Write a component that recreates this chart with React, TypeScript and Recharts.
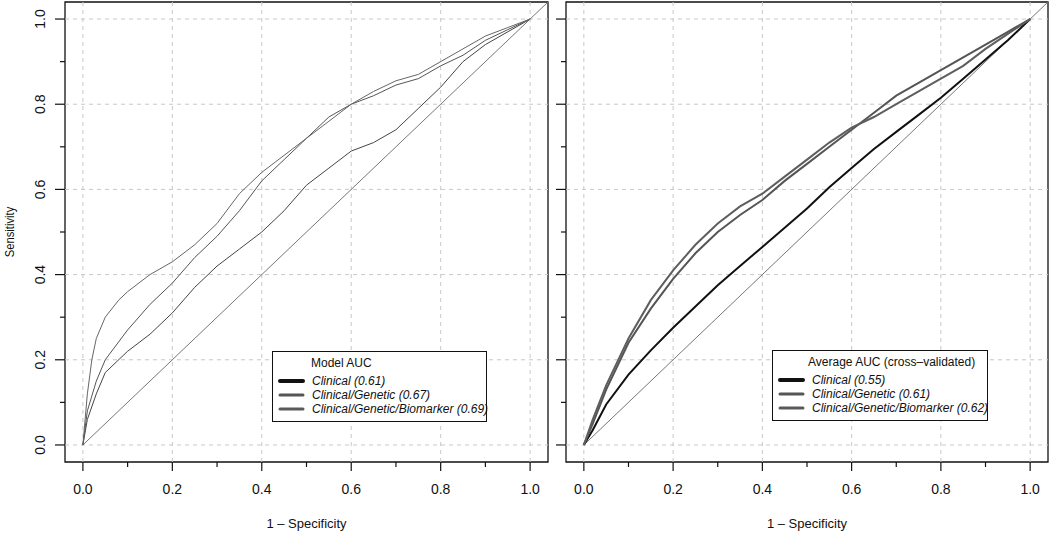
import React from "react";
import { LineChart, Line, XAxis, YAxis, ReferenceLine, ReferenceArea } from "recharts";

type Pt = { x: number; y: number };

// tick values
const axisTicks = [0, 0.1, 0.2, 0.3, 0.4, 0.5, 0.6, 0.7, 0.8, 0.9, 1.0];
const majorTicks = [0, 0.2, 0.4, 0.6, 0.8, 1.0];
const gridValues = [0, 0.2, 0.4, 0.6, 0.8, 1.0];
const domain: [number, number] = [-0.04, 1.04];

const diagonal: Pt[] = [
  { x: 0, y: 0 },
  { x: 1.04, y: 1.04 },
];

// left panel: model ROC curves
const modelClinical: Pt[] = [
  { x: 0, y: 0 }, { x: 0.01, y: 0.06 }, { x: 0.03, y: 0.12 }, { x: 0.05, y: 0.17 },
  { x: 0.1, y: 0.22 }, { x: 0.15, y: 0.26 }, { x: 0.2, y: 0.31 }, { x: 0.25, y: 0.37 },
  { x: 0.3, y: 0.42 }, { x: 0.35, y: 0.46 }, { x: 0.4, y: 0.5 }, { x: 0.45, y: 0.55 },
  { x: 0.5, y: 0.61 }, { x: 0.55, y: 0.65 }, { x: 0.6, y: 0.69 }, { x: 0.65, y: 0.71 },
  { x: 0.7, y: 0.74 }, { x: 0.75, y: 0.79 }, { x: 0.8, y: 0.84 }, { x: 0.85, y: 0.9 },
  { x: 0.9, y: 0.94 }, { x: 0.95, y: 0.97 }, { x: 1, y: 1 },
];
const modelGenetic: Pt[] = [
  { x: 0, y: 0 }, { x: 0.01, y: 0.08 }, { x: 0.03, y: 0.15 }, { x: 0.05, y: 0.2 },
  { x: 0.1, y: 0.27 }, { x: 0.15, y: 0.33 }, { x: 0.2, y: 0.38 }, { x: 0.25, y: 0.44 },
  { x: 0.3, y: 0.49 }, { x: 0.35, y: 0.55 }, { x: 0.4, y: 0.62 }, { x: 0.45, y: 0.67 },
  { x: 0.5, y: 0.72 }, { x: 0.55, y: 0.77 }, { x: 0.6, y: 0.8 }, { x: 0.65, y: 0.82 },
  { x: 0.7, y: 0.845 }, { x: 0.75, y: 0.86 }, { x: 0.8, y: 0.89 }, { x: 0.85, y: 0.915 },
  { x: 0.9, y: 0.95 }, { x: 0.95, y: 0.975 }, { x: 1, y: 1 },
];
const modelBiomarker: Pt[] = [
  { x: 0, y: 0 }, { x: 0.01, y: 0.12 }, { x: 0.02, y: 0.2 }, { x: 0.03, y: 0.25 },
  { x: 0.05, y: 0.3 }, { x: 0.08, y: 0.34 }, { x: 0.1, y: 0.36 }, { x: 0.15, y: 0.4 },
  { x: 0.2, y: 0.43 }, { x: 0.25, y: 0.47 }, { x: 0.3, y: 0.52 }, { x: 0.35, y: 0.59 },
  { x: 0.4, y: 0.64 }, { x: 0.45, y: 0.68 }, { x: 0.5, y: 0.72 }, { x: 0.55, y: 0.76 },
  { x: 0.6, y: 0.8 }, { x: 0.65, y: 0.83 }, { x: 0.7, y: 0.855 }, { x: 0.75, y: 0.87 },
  { x: 0.8, y: 0.9 }, { x: 0.85, y: 0.93 }, { x: 0.9, y: 0.96 }, { x: 0.95, y: 0.98 },
  { x: 1, y: 1 },
];

// right panel: cross-validated average ROC curves
const cvClinical: Pt[] = [
  { x: 0, y: 0 }, { x: 0.02, y: 0.035 }, { x: 0.05, y: 0.095 }, { x: 0.1, y: 0.165 },
  { x: 0.15, y: 0.222 }, { x: 0.2, y: 0.275 }, { x: 0.25, y: 0.325 }, { x: 0.3, y: 0.375 },
  { x: 0.35, y: 0.42 }, { x: 0.4, y: 0.465 }, { x: 0.45, y: 0.51 }, { x: 0.5, y: 0.555 },
  { x: 0.55, y: 0.605 }, { x: 0.6, y: 0.65 }, { x: 0.65, y: 0.695 }, { x: 0.7, y: 0.735 },
  { x: 0.75, y: 0.775 }, { x: 0.8, y: 0.815 }, { x: 0.85, y: 0.86 }, { x: 0.9, y: 0.905 },
  { x: 0.95, y: 0.95 }, { x: 1, y: 1 },
];
const cvGenetic: Pt[] = [
  { x: 0, y: 0 }, { x: 0.02, y: 0.05 }, { x: 0.05, y: 0.13 }, { x: 0.1, y: 0.24 },
  { x: 0.15, y: 0.32 }, { x: 0.2, y: 0.39 }, { x: 0.25, y: 0.45 }, { x: 0.3, y: 0.5 },
  { x: 0.35, y: 0.54 }, { x: 0.4, y: 0.575 }, { x: 0.45, y: 0.62 }, { x: 0.5, y: 0.66 },
  { x: 0.55, y: 0.7 }, { x: 0.6, y: 0.74 }, { x: 0.65, y: 0.78 }, { x: 0.7, y: 0.82 },
  { x: 0.75, y: 0.85 }, { x: 0.8, y: 0.88 }, { x: 0.85, y: 0.91 }, { x: 0.9, y: 0.94 },
  { x: 0.95, y: 0.97 }, { x: 1, y: 1 },
];
const cvBiomarker: Pt[] = [
  { x: 0, y: 0 }, { x: 0.02, y: 0.06 }, { x: 0.05, y: 0.14 }, { x: 0.1, y: 0.25 },
  { x: 0.15, y: 0.34 }, { x: 0.2, y: 0.41 }, { x: 0.25, y: 0.47 }, { x: 0.3, y: 0.52 },
  { x: 0.35, y: 0.56 }, { x: 0.4, y: 0.59 }, { x: 0.45, y: 0.63 }, { x: 0.5, y: 0.67 },
  { x: 0.55, y: 0.71 }, { x: 0.6, y: 0.745 }, { x: 0.65, y: 0.77 }, { x: 0.7, y: 0.8 },
  { x: 0.75, y: 0.83 }, { x: 0.8, y: 0.86 }, { x: 0.85, y: 0.89 }, { x: 0.9, y: 0.93 },
  { x: 0.95, y: 0.965 }, { x: 1, y: 1 },
];

const leftLegendTitle = "Model AUC";
const leftLegendLabels = ["Clinical (0.61)", "Clinical/Genetic (0.67)", "Clinical/Genetic/Biomarker (0.69)"];
const rightLegendTitle = "Average AUC (cross\u2013validated)";
const rightLegendLabels = ["Clinical (0.55)", "Clinical/Genetic (0.61)", "Clinical/Genetic/Biomarker (0.62)"];

const FONT = '"Liberation Sans", Arial, Helvetica, sans-serif';
const INK = "#111";

const isMajor = (v: number) => majorTicks.some((m) => Math.abs(m - v) < 1e-9);

function BottomTick(props: any) {
  const { x, y, payload } = props;
  const major = isMajor(payload.value);
  return (
    <g>
      <line x1={x} x2={x} y1={y} y2={y + (major ? 9 : 5)} stroke={INK} strokeWidth={1.2} />
      {major && (
        <text x={x} y={y + 27} textAnchor="middle" dominantBaseline="central" fontSize={14} fill={INK} fontFamily={FONT}>
          {payload.value.toFixed(1)}
        </text>
      )}
    </g>
  );
}

function makeLeftTick(showLabel: boolean) {
  return (props: any) => {
    const { x, y, payload } = props;
    const major = isMajor(payload.value);
    return (
      <g>
        <line x1={x - (major ? 10 : 5)} x2={x} y1={y} y2={y} stroke={INK} strokeWidth={1.2} />
        {showLabel && major && (
          <text
            x={x - 25}
            y={y}
            transform={`rotate(-90 ${x - 25} ${y})`}
            textAnchor="middle"
            dominantBaseline="central"
            fontSize={14}
            fill={INK}
            fontFamily={FONT}
          >
            {payload.value.toFixed(1)}
          </text>
        )}
      </g>
    );
  };
}

function Panel(props: {
  width: number;
  yAxisWidth: number;
  marginRight: number;
  showYLabels: boolean;
  series: Pt[][];
  colors: string[];
  widths: number[];
}) {
  const { width, yAxisWidth, marginRight, showYLabels, series, colors, widths } = props;
  return (
    <LineChart width={width} height={534} margin={{ top: 2, right: marginRight, left: 0, bottom: 0 }}>
      <XAxis
        dataKey="x"
        type="number"
        domain={domain}
        ticks={axisTicks}
        allowDataOverflow
        axisLine={false}
        tickLine={false}
        tickSize={0}
        tickMargin={0}
        height={72}
        tick={BottomTick}
        interval={0}
        label={{ value: "1 \u2013 Specificity", position: "insideBottom", offset: 6, fontSize: 13, fill: INK, fontFamily: FONT }}
      />
      <YAxis
        dataKey="y"
        type="number"
        domain={domain}
        ticks={axisTicks}
        allowDataOverflow
        axisLine={false}
        tickLine={false}
        tickSize={0}
        tickMargin={0}
        width={yAxisWidth}
        tick={makeLeftTick(showYLabels)}
        interval={0}
      />
      {gridValues.map((v) => (
        <ReferenceLine key={"gx" + v} x={v} stroke="#c8c8c8" strokeDasharray="4 4" />
      ))}
      {gridValues.map((v) => (
        <ReferenceLine key={"gy" + v} y={v} stroke="#c8c8c8" strokeDasharray="4 4" />
      ))}
      <Line data={diagonal} dataKey="y" stroke="#777" strokeWidth={1} dot={false} isAnimationActive={false} />
      {series.map((s, i) => (
        <Line
          key={i}
          data={s}
          dataKey="y"
          stroke={colors[i]}
          strokeWidth={widths[i]}
          dot={false}
          isAnimationActive={false}
        />
      ))}
      <ReferenceArea
        x1={domain[0]}
        x2={domain[1]}
        y1={domain[0]}
        y2={domain[1]}
        fill="none"
        fillOpacity={0}
        stroke={INK}
        strokeWidth={1.3}
        ifOverflow="visible"
      />
    </LineChart>
  );
}

function LegendBox(props: { left: number; top: number; width: number; title: string; titleLeft: number; labels: string[] }) {
  const { left, top, width, title, titleLeft, labels } = props;
  const sampleColors = ["#111", "#555", "#5a5a5a"];
  const sampleWidths = [4, 3, 3];
  return (
    <div
      style={{
        position: "absolute",
        left,
        top,
        width,
        height: 71,
        border: `1.3px solid ${INK}`,
        background: "#fff",
        boxSizing: "border-box",
        fontFamily: FONT,
        color: INK,
      }}
    >
      <div style={{ position: "absolute", left: titleLeft, top: 4, fontSize: 12, lineHeight: "14px", whiteSpace: "nowrap" }}>
        {title}
      </div>
      {labels.map((lab, i) => (
        <div key={lab} style={{ position: "absolute", left: 0, top: 22 + i * 14, height: 14, width: "100%" }}>
          <svg width={34} height={14} style={{ position: "absolute", left: 0, top: 0 }}>
            <line x1={7} x2={30} y1={7} y2={7} stroke={sampleColors[i]} strokeWidth={sampleWidths[i]} strokeLinecap="round" />
          </svg>
          <div style={{ position: "absolute", left: 39, top: 0, fontSize: 12, lineHeight: "14px", fontStyle: "italic", whiteSpace: "nowrap" }}>
            {lab}
          </div>
        </div>
      ))}
    </div>
  );
}

export default function App() {
  return (
    <div style={{ position: "absolute", left: 0, top: 0, width: 1050, height: 534, background: "#fff", overflow: "hidden" }}>
      <div style={{ position: "absolute", left: 0, top: 0 }}>
        <Panel
          width={560}
          yAxisWidth={65}
          marginRight={12}
          showYLabels
          series={[modelClinical, modelGenetic, modelBiomarker]}
          colors={["#444", "#555", "#666"]}
          widths={[1, 1, 1]}
        />
      </div>
      <div style={{ position: "absolute", left: 548, top: 0 }}>
        <Panel
          width={502}
          yAxisWidth={18}
          marginRight={2}
          showYLabels={false}
          series={[cvClinical, cvGenetic, cvBiomarker]}
          colors={["#111", "#555", "#5e5e5e"]}
          widths={[2, 2, 2]}
        />
      </div>
      <div
        style={{
          position: "absolute",
          left: 10,
          top: 232,
          transform: "translate(-50%, -50%) rotate(-90deg) scaleX(0.9)",
          fontFamily: FONT,
          fontSize: 12.5,
          color: INK,
          whiteSpace: "nowrap",
        }}
      >
        Sensitivity
      </div>
      <LegendBox left={272} top={351} width={215} title={leftLegendTitle} titleLeft={38} labels={leftLegendLabels} />
      <LegendBox left={772} top={350} width={216} title={rightLegendTitle} titleLeft={35} labels={rightLegendLabels} />
    </div>
  );
}
